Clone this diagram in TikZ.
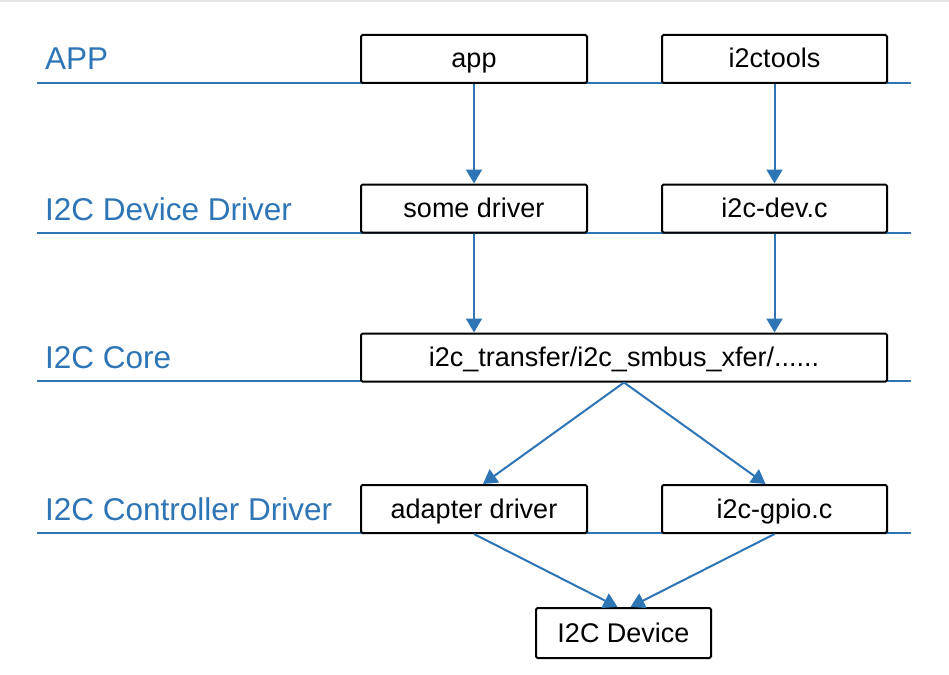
\documentclass[tikz,border=0pt]{standalone}
\usepackage{fontspec}
\setmainfont{Liberation Sans}
\usetikzlibrary{arrows.meta}
\definecolor{lblue}{RGB}{46,117,182}
\begin{document}
\begin{tikzpicture}[x=1pt,y=-1pt,
 box/.style={draw=black,line width=2pt,rounded corners=1.5pt,fill=white,font=\fontsize{27}{32}\selectfont,inner sep=0pt,minimum height=48pt,text height=19pt,text depth=1pt},
 lvl/.style={font=\fontsize{31.5}{36}\selectfont,text=lblue,anchor=base west,inner sep=0pt},
 layer/.style={draw=lblue,line width=2pt},
 arr/.style={draw=lblue,line width=2pt,-{Triangle[length=14pt,width=16pt]}}]
\fill[white] (0,0) rectangle (949,674);
\useasboundingbox (0,0) rectangle (949,674);
\draw[black!10,line width=1.5pt] (0,1) -- (949,1);
% layer lines
\foreach \yy in {83,233,381,533} \draw[layer] (37,\yy) -- (911,\yy);
% labels
\node[lvl] (lapp) at (45,70) {APP};
\node[lvl] (ldd) at (45,220) {I2C Device Driver};
\node[lvl] (lcore) at (45,368) {I2C Core};
\node[lvl] (lcd) at (45,520) {I2C Controller Driver};
% boxes
\node[box,minimum width=226pt] (app) at (474,59) {app};
\node[box,minimum width=225pt] (tools) at (774.5,59) {i2ctools};
\node[box,minimum width=226pt] (sd) at (474,208.5) {some driver};
\node[box,minimum width=225pt] (dev) at (774.5,208.5) {i2c-dev.c};
\node[box,minimum width=526pt] (core) at (624,357.5) {i2c\_transfer/i2c\_smbus\_xfer/......};
\node[box,minimum width=226pt] (ad) at (474,509) {adapter driver};
\node[box,minimum width=225pt] (gp) at (774.5,509) {i2c-gpio.c};
\node[box,minimum width=175pt,minimum height=50pt] (i2cdev) at (623.5,633) {I2C Device};
% arrows
\draw[arr] (app.south) -- (sd.north);
\draw[arr] (tools.south) -- (dev.north);
\draw[arr] (sd.south) -- (sd.south |- core.north);
\draw[arr] (dev.south) -- (dev.south |- core.north);
\draw[arr] (core.south) -- ([xshift=9pt]ad.north);
\draw[arr] (core.south) -- ([xshift=-9pt]gp.north);
\draw[arr] (ad.south) -- ([xshift=-6pt]i2cdev.north);
\draw[arr] (gp.south) -- ([xshift=7pt]i2cdev.north);
\end{tikzpicture}
\end{document}
